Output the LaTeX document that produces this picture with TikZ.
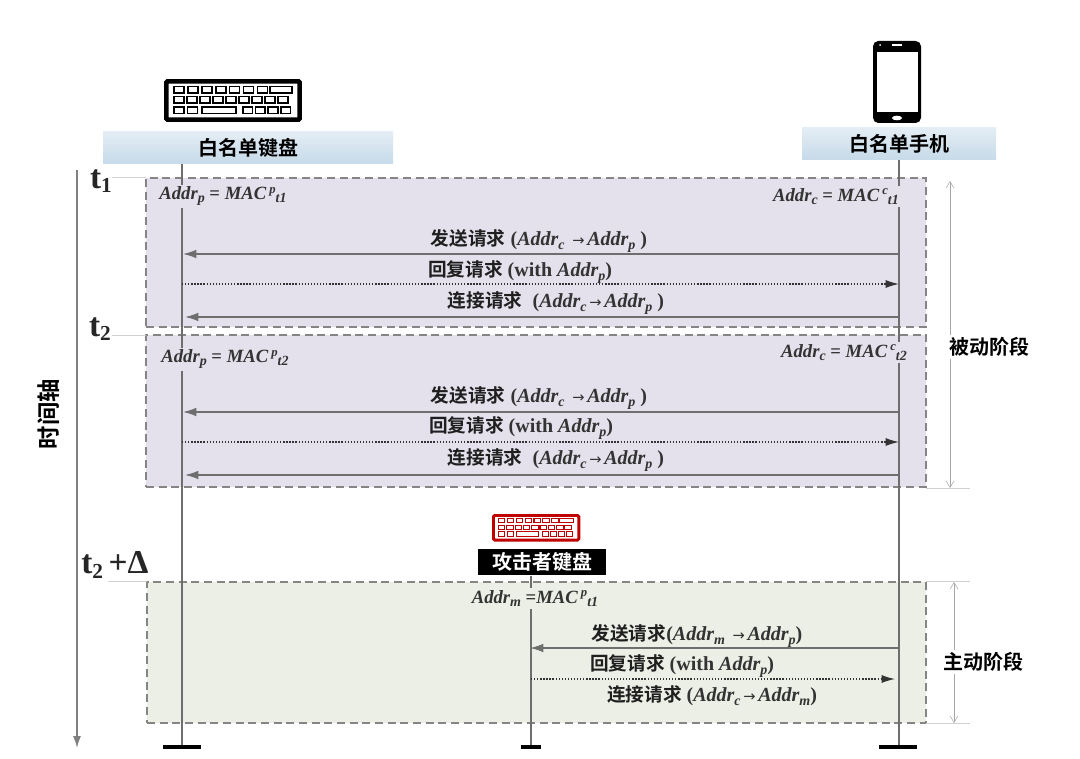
\documentclass[tikz,border=0pt]{standalone}
\usepackage{fontspec}
\setmainfont{Liberation Serif}
\newfontfamily\cjk{Noto Sans CJK SC}[BoldFont={Noto Sans CJK SC Bold}]
\usetikzlibrary{arrows.meta}
\definecolor{lineg}{HTML}{6E6E6E}
\definecolor{dashg}{HTML}{858585}
\definecolor{txt}{HTML}{333333}
\definecolor{purp}{HTML}{E4E1EC}
\definecolor{olive}{HTML}{ECEFE5}
\definecolor{hdtop}{HTML}{E4EDF4}
\definecolor{hdbot}{HTML}{C6DAE9}
\definecolor{kbred}{HTML}{C00000}
\newcommand{\cj}[1]{{\cjk\bfseries #1}}
\newcommand{\cjs}[1]{{\cjk\bfseries\fontsize{14}{16}\selectfont\color{black!88}#1}}
\newcommand{\sbb}[1]{\raisebox{-0.35ex}{\fontsize{10.5}{10.5}\selectfont\bfseries\itshape #1}}
\newcommand{\spp}[1]{\raisebox{0.8ex}{\fontsize{9.5}{9.5}\selectfont\bfseries\itshape #1}}
\newcommand{\ad}[1]{{\bfseries\itshape Addr}\sbb{#1}}
\newcommand{\mac}[2]{{\bfseries\itshape MAC}\,\spp{#1}\sbb{#2}}
\newcommand{\arr}{\kern2pt{\fontspec{DejaVu Sans}\fontsize{11}{11}\selectfont →}\kern2pt}
\tikzset{
  x=0.75pt,y=-0.75pt,
  lifeline/.style={draw=lineg,line width=0.9pt},
  footbar/.style={draw=black,line width=2.5pt},
  phasebox/.style={draw=dashg,dashed,dash pattern=on 6pt off 3.5pt,line width=0.85pt},
  guideline/.style={draw=black!18,line width=0.4pt},
  spanline/.style={draw=black!35,line width=0.4pt,{Straight Barb[length=5pt,width=6pt]}-{Straight Barb[length=5pt,width=6pt]}},
  msgline/.style={draw=lineg,line width=1.1pt,-{Latex[length=10pt,width=6.5pt]}},
  replyline/.style={draw=black!80,dash pattern=on 1pt off 1.3pt,line width=0.9pt,-{Latex[length=10pt,width=6pt,sharp]}},
  headbox/.style={shade,top color=hdtop,bottom color=hdbot,inner sep=0pt,font=\fontsize{15}{17}\selectfont},
  lbl/.style={inner sep=0pt,font=\fontsize{15}{17}\selectfont,text=txt},
  eqp/.style={lbl,fill=purp,inner sep=1.5pt,font=\fontsize{14}{16}\selectfont},
  eqo/.style={lbl,fill=olive,inner sep=1.5pt,font=\fontsize{14}{16}\selectfont},
  tmark/.style={inner sep=0pt,font=\bfseries\fontsize{25}{26}\selectfont,text=black!85},
  sidelbl/.style={inner sep=2pt,fill=white,font=\fontsize{15}{17}\selectfont,text=black},
}
\newcommand{\keyboard}[4]{%
  \begin{scope}[shift={(#1,#2)},x=#3*0.75pt,y=-#3*0.75pt]
    \draw[#4,fill=white,line width=#3*3.4pt,rounded corners=1pt] (2.3,2.3) rectangle (135.7,40.7);
    \begin{scope}[#4,line width=#3*1.2pt]
      \foreach \i in {0,...,6} \draw (10+13.9*\i,7.5) rectangle (20+13.9*\i,14);
      \draw (106,7.5) rectangle (128,14);
      \foreach \i in {0,...,8} \draw (10+13*\i,17.5) rectangle (20+13*\i,24);
      \foreach \i in {0,1} \draw (10+13.5*\i,28) rectangle (20+13.5*\i,34.5);
      \draw (38,28) rectangle (72,34.5);
      \foreach \i in {0,...,3} \draw (79+12.6*\i,28) rectangle (88.5+12.6*\i,34.5);
    \end{scope}
  \end{scope}}
\begin{document}
\begin{tikzpicture}
\useasboundingbox (0,0) rectangle (1080,759);
% phase regions
\node[phasebox,fill=purp,minimum width=780*0.75pt,minimum height=149*0.75pt,inner sep=0pt] (p1) at (536,252.5) {};
\node[phasebox,fill=purp,minimum width=780*0.75pt,minimum height=152*0.75pt,inner sep=0pt] (p2) at (536,411) {};
\node[phasebox,fill=olive,minimum width=779*0.75pt,minimum height=141*0.75pt,inner sep=0pt] (p3) at (536.5,652.5) {};
% icons
\keyboard{164}{79}{1}{black}
\keyboard{492}{514}{0.64}{kbred}
\fill[black,rounded corners=4pt] (873,41) rectangle (921,123);
\fill[white] (877,52) rectangle (918,112);
\fill[white] (892,44) rectangle (902,46);
\fill[white] (880,45) circle (1);
\fill[white] (897,118) ellipse (5 and 2.3);
% lifelines (drawn first so the headers sit on top)
\coordinate (kbend) at (182,747);
\coordinate (phend) at (899,747);
\coordinate (attend) at (531,747);
\node[headbox,minimum width=290*0.75pt,minimum height=32*0.75pt] (kb) at (248,148) {\cj{白名单键盘}};
\node[headbox,minimum width=194*0.75pt,minimum height=32*0.75pt] (ph) at (899,144) {\cj{白名单手机}};
\node[fill=black,text=white,inner sep=0pt,minimum width=128*0.75pt,minimum height=26*0.75pt,font=\fontsize{15}{17}\selectfont] (att) at (542,562) {\cj{攻击者键盘}};
\coordinate (kbtop) at (182,164);
\coordinate (phtop) at (899,160);
\coordinate (atttop) at (531,575.5);
\draw[lifeline] (kbtop) -- (kbend);
\draw[lifeline] (phtop) -- (phend);
\draw[lifeline] (atttop) -- (attend);
\coordinate (kbfa) at (163,747); \coordinate (kbfb) at (201,747);
\coordinate (phfa) at (879,747); \coordinate (phfb) at (917,747);
\coordinate (atfa) at (521,747); \coordinate (atfb) at (541,747);
\draw[footbar] (kbfa) -- (kbfb);
\draw[footbar] (phfa) -- (phfb);
\draw[footbar] (atfa) -- (atfb);
% time axis
\coordinate (ta) at (77,170); \coordinate (tb) at (77,748);
\draw[draw=black!50,line width=1.1pt,-{Latex[length=9pt,width=6pt]}] (ta) -- (tb);
\node[rotate=90,inner sep=0pt,font=\fontsize{17.5}{19}\selectfont] (tl) at (49,414) {\cj{时间轴}};
% ticks
\node[tmark] (t1) at (101,181) {t\raisebox{-0.3ex}{\fontsize{16}{16}\selectfont 1}};
\node[tmark] (t2) at (100,329) {t\raisebox{-0.3ex}{\fontsize{16}{16}\selectfont 2}};
\node[tmark] (t3) at (115,565) {t\raisebox{-0.3ex}{\fontsize{16}{16}\selectfont 2}\,+Δ};
\coordinate (g1a) at (112,177); \coordinate (g1b) at (146,177);
\coordinate (g2a) at (112,335); \coordinate (g2b) at (146,335);
\coordinate (g3a) at (108,581); \coordinate (g3b) at (147,581);
\draw[guideline] (g1a) -- (g1b);
\draw[guideline] (g2a) -- (g2b);
\draw[guideline] (g3a) -- (g3b);
\coordinate (r1a) at (926,488); \coordinate (r1b) at (970,488);
\coordinate (r2a) at (926,581); \coordinate (r2b) at (970,581);
\coordinate (r3a) at (926,723); \coordinate (r3b) at (970,723);
\draw[guideline] (r1a) -- (r1b);
\draw[guideline] (r2a) -- (r2b);
\draw[guideline] (r3a) -- (r3b);
% spans
\coordinate (s1a) at (950,181); \coordinate (s1b) at (950,488);
\coordinate (s2a) at (954,582); \coordinate (s2b) at (954,723);
\draw[spanline] (s1a) -- (s1b);
\draw[spanline] (s2a) -- (s2b);
\node[sidelbl] (lb1) at (989,347) {\cj{被动阶段}};
\node[sidelbl] (lb2) at (983,662) {\cj{主动阶段}};
% equations
\node[eqp] (e1) at (223,196.5) {\ad{p} {\bfseries =} \mac{p}{t1}};
\node[eqp] (e2) at (836,196.5) {\ad{c} {\bfseries =} \mac{c}{t1}};
\node[eqp] (e3) at (225,359.5) {\ad{p} {\bfseries =} \mac{p}{t2}};
\node[eqp] (e4) at (844,352.5) {\ad{c} {\bfseries =} \mac{c}{t2}};
\node[eqo] (e5) at (535,598.5) {\ad{m} {\bfseries =}\mac{p}{t1}};
% coordinates of messages
\coordinate (msa) at (899,254); \coordinate (msb) at (899,317);
\coordinate (msc) at (899,412); \coordinate (msd) at (899,475);
\coordinate (msf) at (899,648);
\coordinate (mea) at (183,254); \coordinate (meb) at (185,317);
\coordinate (mec) at (183,412); \coordinate (med) at (185,475);
\coordinate (mef) at (530,648);
\coordinate (rsa) at (182,284); \coordinate (rea) at (899,284);
\coordinate (rsb) at (182,442); \coordinate (reb) at (899,442);
\coordinate (rsc) at (531,679); \coordinate (rec) at (895,679);
\draw[msgline] (msa) -- (mea);
\draw[msgline] (msb) -- (meb);
\draw[msgline] (msc) -- (mec);
\draw[msgline] (msd) -- (med);
\draw[msgline] (msf) -- (mef);
\draw[replyline] (rsa) -- (rea);
\draw[replyline] (rsb) -- (reb);
\draw[replyline] (rsc) -- (rec);
% message labels
\node[lbl] (l1) at (539,241) {\cjs{发送请求} {\bfseries (}\ad{c} \arr \ad{p} {\bfseries )}};
\node[lbl] (l2) at (520,272) {\cjs{回复请求} {\bfseries (with }\ad{p}{\bfseries )}};
\node[lbl] (l3) at (556,303) {\cjs{连接请求} \ {\bfseries (}\ad{c}\arr\ad{p} {\bfseries )}};
\node[lbl] (l4) at (539,398) {\cjs{发送请求} {\bfseries (}\ad{c} \arr \ad{p} {\bfseries )}};
\node[lbl] (l5) at (521,428) {\cjs{回复请求} {\bfseries (with }\ad{p}{\bfseries )}};
\node[lbl] (l6) at (556,460) {\cjs{连接请求} \ {\bfseries (}\ad{c}\arr\ad{p} {\bfseries )}};
\node[lbl] (l7) at (697,636) {\cjs{发送请求}{\bfseries (}\ad{m} \arr \ad{p}{\bfseries )}};
\node[lbl] (l8) at (682,666) {\cjs{回复请求} {\bfseries (with }\ad{p}{\bfseries )}};
\node[lbl] (l9) at (712,696) {\cjs{连接请求} {\bfseries (}\ad{c}\arr\ad{m}{\bfseries )}};
\end{tikzpicture}
\end{document}
